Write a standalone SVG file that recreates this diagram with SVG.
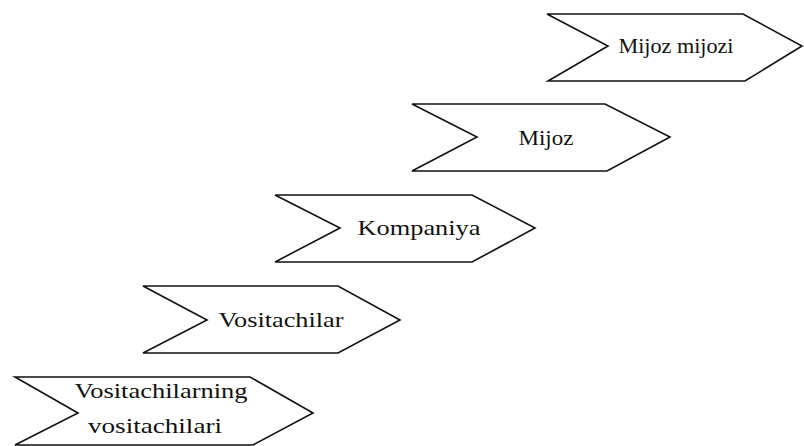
<svg xmlns="http://www.w3.org/2000/svg" width="804" height="446" viewBox="0 0 804 446">
<style>
.shape{fill:#fff;stroke:#111;stroke-width:1.6;stroke-linejoin:miter}
.lbl{font-family:"Liberation Serif","Times New Roman",serif;font-size:22px;fill:#111;text-anchor:middle}
</style>
<rect width="804" height="446" fill="#fff"/>
<g id="connectors"></g>
<g id="node-mijoz-mijozi">
<polygon class="shape" points="547,14 743,14 802,46 745,81 548,81 608,46"/>
<text class="lbl" x="676" y="53" textLength="115" lengthAdjust="spacingAndGlyphs">Mijoz mijozi</text>
</g>
<g id="node-mijoz">
<polygon class="shape" points="412,104 605,104 670,137 607,171 412,171 477,137"/>
<text class="lbl" x="546" y="145" textLength="55" lengthAdjust="spacingAndGlyphs">Mijoz</text>
</g>
<g id="node-kompaniya">
<polygon class="shape" points="275,195 472,195 535,228 472,262 275,262 340,228"/>
<text class="lbl" x="419" y="235" textLength="123" lengthAdjust="spacingAndGlyphs">Kompaniya</text>
</g>
<g id="node-vositachilar">
<polygon class="shape" points="143,286 338,286 400,320 338,353 143,353 207,320"/>
<text class="lbl" x="281" y="327" textLength="125" lengthAdjust="spacingAndGlyphs">Vositachilar</text>
</g>
<g id="node-vositachilarning-vositachilari">
<polygon class="shape" points="15,377 250,377 313,413 253,445 15,445 78,413"/>
<text class="lbl" x="161" y="398" textLength="173" lengthAdjust="spacingAndGlyphs">Vositachilarning</text>
<text class="lbl" x="155" y="433" textLength="134" lengthAdjust="spacingAndGlyphs">vositachilari</text>
</g>
</svg>
